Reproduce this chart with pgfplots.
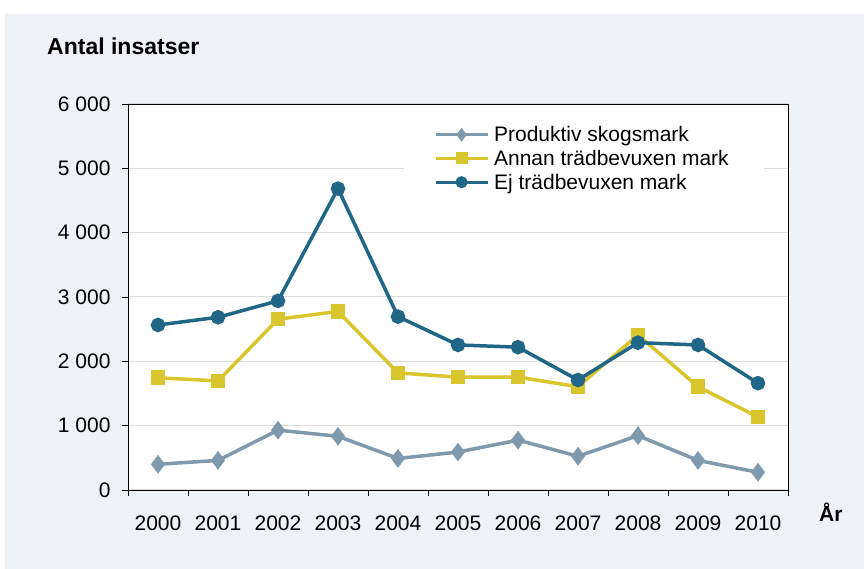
\documentclass[border=0pt]{standalone}
\usepackage{pgfplots}
\pgfplotsset{compat=1.18}
\usepackage{fontspec}
\setmainfont{Liberation Sans}
\definecolor{bgcol}{HTML}{EEF1F6}
\definecolor{cblue}{HTML}{1F6687}
\definecolor{cyellow}{HTML}{D9C52C}
\definecolor{cgray}{HTML}{7F99AD}
\definecolor{gridc}{HTML}{DCDCDC}
\begin{document}
\begin{tikzpicture}
\fill[white] (0,0) rectangle (864pt,569pt);
\fill[bgcol] (5pt,0) rectangle (864pt,555pt);
\begin{axis}[
  at={(128pt,79pt)}, anchor=south west,
  scale only axis, width=660pt, height=386pt,
  axis background/.style={fill=white},
  xmin=-0.5, xmax=10.5, ymin=0, ymax=6000,
  xtick={0,...,10},
  xticklabels={2000,2001,2002,2003,2004,2005,2006,2007,2008,2009,2010},
  major x tick style={draw=none},
  minor xtick={-0.5,0.5,...,10.5},
  minor tick length=6pt,
  ytick={0,1000,...,6000},
  yticklabels={0,1 000,2 000,3 000,4 000,5 000,6 000},
  major tick length=6pt,
  tick align=outside, tick pos=left,
  tick style={black, line width=0.8pt},
  axis line style={black, line width=0.9pt},
  ymajorgrids, grid style={gridc, line width=1pt},
  font=\fontsize{21}{24}\selectfont,
  ticklabel style={font=\fontsize{21}{24}\selectfont},
  xticklabel style={anchor=base, yshift=-35pt},
  yticklabel style={anchor=east, xshift=-8pt},
  every axis plot/.append style={line width=3.5pt},
  legend image code/.code={\draw[line width=3pt, mark size=4.5pt, mark repeat=2,mark phase=2] plot coordinates {(0pt,0pt)(26pt,0pt)(52pt,0pt)};},
  legend style={at={(0.418,0.958)}, anchor=north west, fill=white, draw=none,
    inner xsep=30pt, inner ysep=4pt, row sep=3pt,
    font=\fontsize{21}{24}\selectfont, cells={anchor=west},
    nodes={inner xsep=5pt}},
  clip=false,
]
\addplot[cgray, mark=diamond*, mark size=6.5pt, mark options={solid}] coordinates {
(0,400) (1,460) (2,930) (3,835) (4,490) (5,590) (6,775) (7,525) (8,845) (9,460) (10,275)};
\addlegendentry{Produktiv skogsmark}
\addplot[cyellow, mark=square*, mark size=5.5pt] coordinates {
(0,1745) (1,1695) (2,2655) (3,2775) (4,1820) (5,1755) (6,1755) (7,1605) (8,2410) (9,1605) (10,1135)};
\addlegendentry{Annan trädbevuxen mark}
\addplot[cblue, mark=*, mark size=5.5pt] coordinates {
(0,2565) (1,2685) (2,2940) (3,4685) (4,2695) (5,2255) (6,2220) (7,1710) (8,2290) (9,2255) (10,1660)};
\addlegendentry{Ej trädbevuxen mark}
\end{axis}
\node[anchor=base west, font=\bfseries\fontsize{23}{26}\selectfont, inner sep=0pt] at (47pt,514pt) {Antal insatser};
\node[anchor=base west, font=\bfseries\fontsize{21}{24}\selectfont, inner sep=0pt] at (819pt,47pt) {År};
\pgfresetboundingbox
\useasboundingbox (0,0) rectangle (864pt,569pt);
\end{tikzpicture}
\end{document}
